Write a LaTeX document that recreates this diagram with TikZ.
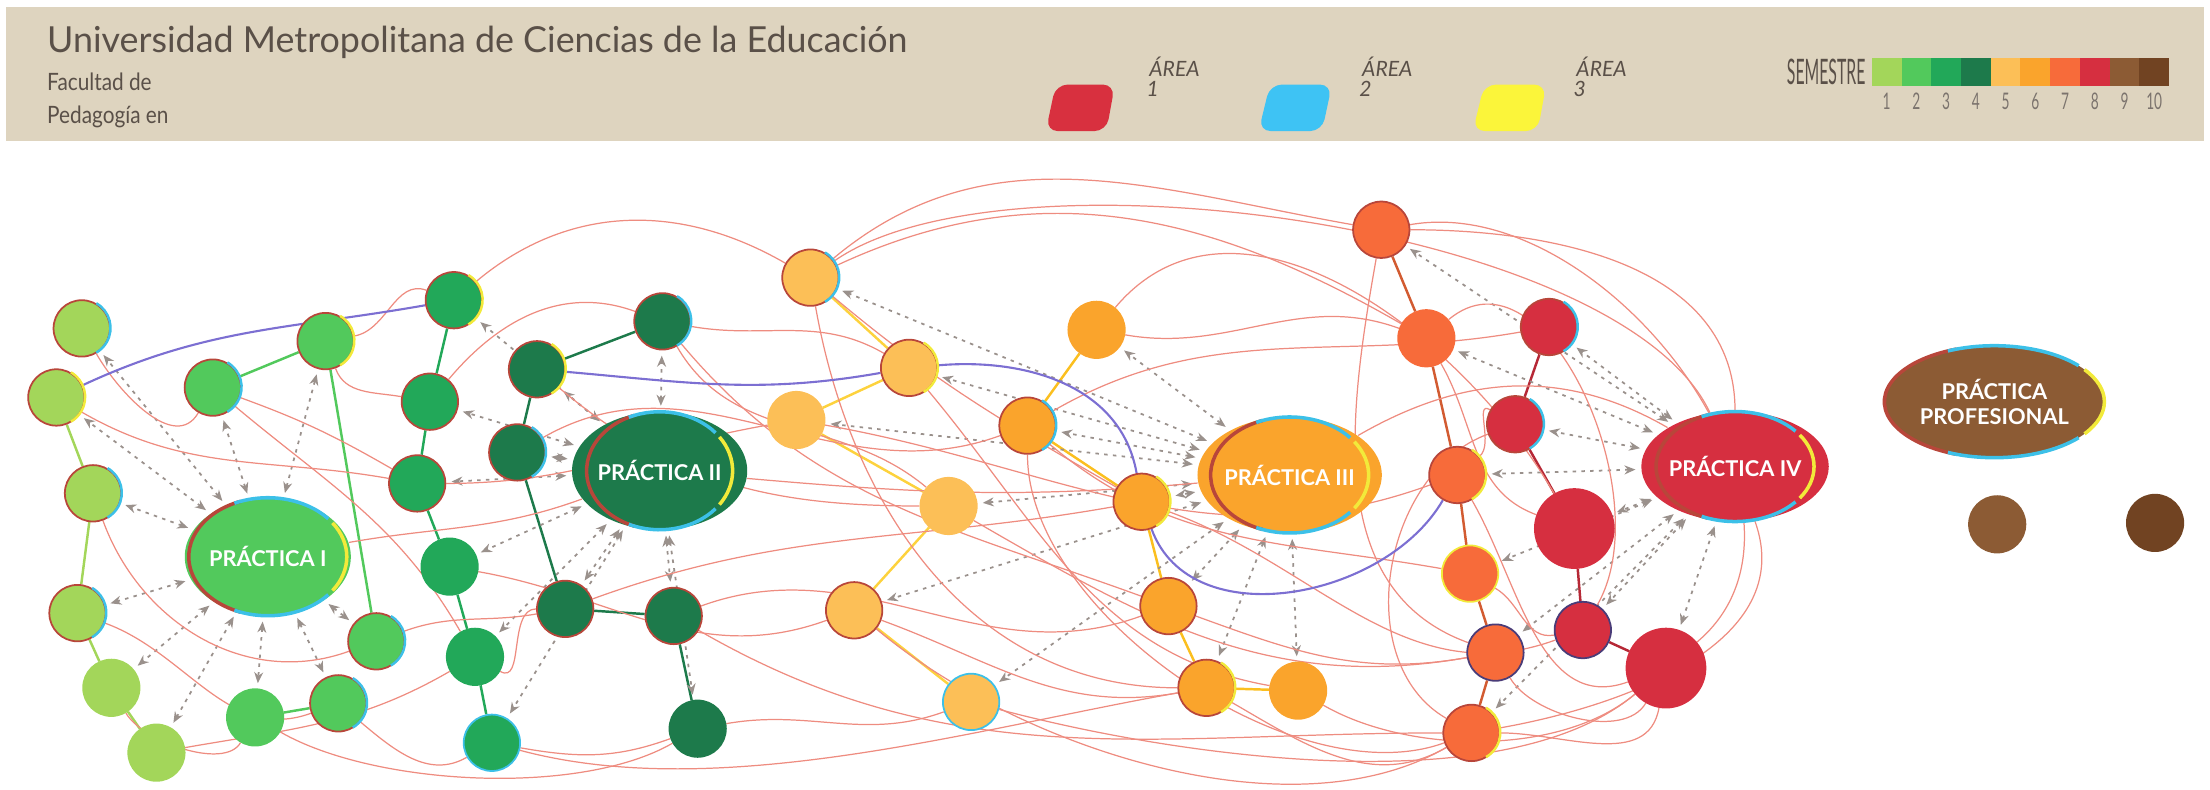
\documentclass[tikz,border=0pt]{standalone}
\usepackage{fontspec}
\setmainfont{Lato}
\usepackage{graphicx}
\usetikzlibrary{calc,positioning,shapes.geometric,arrows.meta}
\pgfdeclarelayer{fondo}
\pgfsetlayers{fondo,main}

\definecolor{banda}{HTML}{DED4BF}
\definecolor{titulo}{HTML}{5A5048}
\definecolor{sem1}{HTML}{A3D65A}
\definecolor{sem2}{HTML}{52C95C}
\definecolor{sem3}{HTML}{22A859}
\definecolor{sem4}{HTML}{1D7A4B}
\definecolor{sem5}{HTML}{FCBF57}
\definecolor{sem6}{HTML}{FAA42C}
\definecolor{sem7}{HTML}{F76B3A}
\definecolor{sem8}{HTML}{D62F40}
\definecolor{sem9}{HTML}{8C5B34}
\definecolor{sem10}{HTML}{714322}
\definecolor{area1}{HTML}{D8303F}
\definecolor{area2}{HTML}{3EC3F4}
\definecolor{area3}{HTML}{FBF53A}
\definecolor{rimred}{HTML}{B8463A}
\definecolor{rimcyan}{HTML}{3CC0E8}
\definecolor{rimyellow}{HTML}{F2EA3A}
\definecolor{rimnavy}{HTML}{4A3C78}
\definecolor{salmon}{HTML}{EE8C80}
\definecolor{morado}{HTML}{7C6FD2}
\definecolor{punteado}{HTML}{9A918C}

\begin{document}
\begin{tikzpicture}[x=0.14094mm,y=0.14094mm,
  curso/.style={circle,minimum size=5.64mm,inner sep=0pt,draw=rimred,line width=0.5pt},
  grande/.style={curso,minimum size=7.9mm},
  practica/.style={ellipse,inner sep=0pt,text=white,align=center,
    font=\fontsize{6.2}{7}\selectfont\bfseries},
  lazo/.style={draw=salmon,line width=0.35pt},
  cadena/.style={line width=0.7pt},
  ruta/.style={draw=morado,line width=0.6pt},
  flecha/.style={draw=punteado,line width=0.5pt,dash pattern=on 1pt off 1.5pt,
    >={Stealth[length=1.1mm,width=0.9mm]},<->,shorten <=1.5pt,shorten >=1.5pt},
  leyenda/.style={text=titulo,inner sep=0pt,font=\fontsize{6}{6}\selectfont\itshape}]

 \useasboundingbox (0,0) rectangle (1568,-560);

    % header
    \fill[banda] (4,-5) rectangle (1564,-100);
    \node[anchor=west,inner sep=0pt,text=titulo,font=\fontsize{10.2}{11}\selectfont] (univ) at (33,-30)
        {Universidad Metropolitana de Ciencias de la Educación};
    \node[anchor=west,inner sep=0pt,text=titulo,font=\fontsize{6.8}{8}\selectfont] (facultad) at (33,-58)
        {\scalebox{0.87}[1]{Facultad de}};
    \node[anchor=west,inner sep=0pt,text=titulo,font=\fontsize{6.8}{8}\selectfont] (pedagogia) at (33,-83)
        {\scalebox{0.87}[1]{Pedagogía en}};

    % areas
    \fill[area1,rounded corners=1.2mm] (749,-60) -- (791,-60) -- (785,-93) -- (742,-93) -- cycle;
    \fill[area2,rounded corners=1.2mm] (901,-60) -- (945,-60) -- (938,-93) -- (893,-93) -- cycle;
    \fill[area3,rounded corners=1.2mm] (1053,-60) -- (1097,-60) -- (1091,-93) -- (1045,-93) -- cycle;
    \node[leyenda,anchor=west] (area1t) at (815,-47) {ÁREA};
    \node[leyenda,anchor=west] (area1n) at (813,-63) {1};
    \node[leyenda,anchor=west] (area2t) at (966,-47) {ÁREA};
    \node[leyenda,anchor=west] (area2n) at (964,-63) {2};
    \node[leyenda,anchor=west] (area3t) at (1118,-47) {ÁREA};
    \node[leyenda,anchor=west] (area3n) at (1116,-63) {3};

    % semestres
    \node[anchor=east,inner sep=0pt,text=titulo] (semestre) at (1324,-51)
        {\scalebox{0.45}[1]{\fontsize{10}{10}\selectfont SEMESTRE}};
    \foreach \i in {1,...,10} {
      \fill[sem\i] ({1328+(\i-1)*21.1},-41) rectangle ++(21.1,-20);
      \node[inner sep=0pt,text=titulo!80] (num\i) at ({1338.5+(\i-1)*21.1},-72)
          {\scalebox{0.6}[1]{\fontsize{6.5}{6.5}\selectfont \i}};
    }

    % practicas
    \node[practica,fill=sem2,minimum width=15.8mm,minimum height=11.8mm] (p1) at (190,-395) {PRÁCTICA I};
    \node[practica,fill=sem4,minimum width=14.6mm,minimum height=11.8mm] (p2) at (468,-334) {PRÁCTICA II};
    \node[practica,fill=sem6,minimum width=15.8mm,minimum height=11.6mm] (p3) at (915,-337) {PRÁCTICA III};
    \node[practica,fill=sem8,minimum width=15.8mm,minimum height=11mm] (p4) at (1231,-331) {PRÁCTICA IV};
    \node[practica,fill=sem9,minimum width=22mm,minimum height=11.2mm] (pp) at (1415,-285) {PRÁCTICA\\PROFESIONAL};

    % semestre 1 y 2
    \node[curso,fill=sem1] (s1a) at (58,-233) {};
    \node[curso,fill=sem1] (s1b) at (40,-282) {};
    \node[curso,fill=sem1] (s1c) at (66,-350) {};
    \node[curso,fill=sem1] (s1d) at (55,-435) {};
    \node[curso,fill=sem1,draw=sem1] (s1e) at (79,-488) {};
    \node[curso,fill=sem1,draw=sem1] (s1f) at (111,-534) {};
    \node[curso,fill=sem2] (s2a) at (151,-275) {};
    \node[curso,fill=sem2] (s2b) at (231,-242) {};
    \node[curso,fill=sem2] (s2c) at (267,-455) {};
    \node[curso,fill=sem2] (s2d) at (240,-499) {};
    \node[curso,fill=sem2,draw=sem2] (s2e) at (181,-509) {};

    % semestre 3 y 4
    \node[curso,fill=sem3] (s3a) at (322,-213) {};
    \node[curso,fill=sem3] (s3b) at (305,-285) {};
    \node[curso,fill=sem3] (s3c) at (296,-343) {};
    \node[curso,fill=sem3,draw=sem3] (s3d) at (319,-402) {};
    \node[curso,fill=sem3,draw=sem3] (s3e) at (337,-466) {};
    \node[curso,fill=sem3,draw=rimcyan] (s3f) at (349,-527) {};
    \node[curso,fill=sem4] (s4a) at (381,-262) {};
    \node[curso,fill=sem4] (s4b) at (470,-228) {};
    \node[curso,fill=sem4] (s4c) at (367,-321) {};
    \node[curso,fill=sem4] (s4d) at (401,-432) {};
    \node[curso,fill=sem4] (s4e) at (478,-437) {};
    \node[curso,fill=sem4,draw=sem4] (s4f) at (495,-517) {};

    % semestre 5 y 6
    \node[curso,fill=sem5] (s5a) at (575,-197) {};
    \node[curso,fill=sem5] (s5b) at (645,-261) {};
    \node[curso,fill=sem5,draw=sem5] (s5c) at (565,-298) {};
    \node[curso,fill=sem5,draw=sem5] (s5d) at (673,-359) {};
    \node[curso,fill=sem5] (s5e) at (606,-433) {};
    \node[curso,fill=sem5,draw=rimcyan] (s5f) at (689,-498) {};
    \node[curso,fill=sem6,draw=sem6] (s6a) at (778,-234) {};
    \node[curso,fill=sem6] (s6b) at (729,-302) {};
    \node[curso,fill=sem6] (s6c) at (810,-356) {};
    \node[curso,fill=sem6] (s6d) at (829,-430) {};
    \node[curso,fill=sem6] (s6e) at (856,-488) {};
    \node[curso,fill=sem6,draw=sem6] (s6f) at (921,-490) {};

    % semestre 7 y 8
    \node[curso,fill=sem7] (s7a) at (980,-163) {};
    \node[curso,fill=sem7,draw=sem7] (s7b) at (1012,-240) {};
    \node[curso,fill=sem7] (s7c) at (1034,-337) {};
    \node[curso,fill=sem7,draw=rimyellow] (s7d) at (1043,-407) {};
    \node[curso,fill=sem7,draw=rimnavy] (s7e) at (1061,-463) {};
    \node[curso,fill=sem7] (s7f) at (1044,-520) {};
    \node[curso,fill=sem8] (s8a) at (1099,-232) {};
    \node[curso,fill=sem8] (s8b) at (1075,-301) {};
    \node[grande,fill=sem8,draw=sem8] (s8c) at (1117,-375) {};
    \node[curso,fill=sem8,draw=rimnavy] (s8d) at (1123,-447) {};
    \node[grande,fill=sem8,draw=sem8] (s8e) at (1182,-474) {};

    % semestre 9 y 10
    \node[curso,fill=sem9,draw=sem9] (s9a) at (1417,-372) {};
    \node[curso,fill=sem10,draw=sem10] (s10a) at (1529,-371) {};

    % bordes de area
    \foreach \n in {s1a,s1c,s1d,s2a,s2c,s2d,s4b,s5a,s6b,s8a,s8b,s4c}
      \draw[rimcyan,line width=0.7pt] (\n.60) arc[start angle=60,end angle=-60,radius=2.85mm];
    \foreach \n in {s1b,s2b,s3a,s4a,s5b,s6c,s6e,s7c,s7f}
      \draw[rimyellow,line width=0.7pt] (\n.60) arc[start angle=60,end angle=-60,radius=2.85mm];
    \foreach \n/\rx/\ry in {p1/7.9mm/5.9mm,p2/7.3mm/5.9mm,p3/7.9mm/5.8mm,p4/7.9mm/5.5mm,pp/11mm/5.6mm} {
      \draw[rimred,line width=1pt] ($(\n)+({\rx*cos(110)},{\ry*sin(110)})$) arc[start angle=110,end angle=250,x radius=\rx,y radius=\ry];
      \draw[rimcyan,line width=1pt] ($(\n)+({\rx*cos(40)},{\ry*sin(40)})$) arc[start angle=40,end angle=115,x radius=\rx,y radius=\ry];
      \draw[rimcyan,line width=1pt] ($(\n)+({\rx*cos(245)},{\ry*sin(245)})$) arc[start angle=245,end angle=320,x radius=\rx,y radius=\ry];
      \draw[rimyellow,line width=1pt] ($(\n)+({\rx*cos(-35)},{\ry*sin(-35)})$) arc[start angle=-35,end angle=35,x radius=\rx,y radius=\ry];
    }

    \begin{pgfonlayer}{fondo}
    % cadenas por semestre
    \draw[cadena,sem1] (s1b) -- (s1c) -- (s1d) -- (s1e) -- (s1f);
    \draw[cadena,sem2] (s2a) -- (s2b) -- (s2c);
    \draw[cadena,sem2] (s2d) -- (s2e);
    \draw[cadena,sem3] (s3a) -- (s3b) -- (s3c) -- (s3d) -- (s3e) -- (s3f);
    \draw[cadena,sem4] (s4b) -- (s4a) -- (s4c) -- (s4d) -- (s4e) -- (s4f);
    \draw[cadena,sem5!70!yellow] (s5a) -- (s5b) -- (s5c) -- (s5d) -- (s5e) -- (s5f);
    \draw[cadena,sem6!70!yellow] (s6a) -- (s6b) -- (s6c) -- (s6d) -- (s6e) -- (s6f);
    \draw[cadena,sem7!85!black] (s7a) -- (s7b) -- (s7c) -- (s7d) -- (s7e) -- (s7f);
    \draw[cadena,sem8!85!black] (s8a) -- (s8b) -- (s8c) -- (s8d) -- (s8e);

    % flechas hacia las practicas
    \foreach \n in {s1a,s1b,s1c,s1d,s1e,s1f,s2a,s2b,s2c,s2d,s2e} \draw[flecha] (p1) -- (\n);
    \foreach \n in {s3a,s3b,s3c,s3d,s3e,s3f,s4a,s4b,s4c,s4d,s4e,s4f} \draw[flecha] (p2) -- (\n);
    \foreach \n in {s5a,s5b,s5c,s5d,s5e,s5f,s6a,s6b,s6c,s6d,s6e,s6f} \draw[flecha] (p3) -- (\n);
    \foreach \n in {s7a,s7b,s7c,s7d,s7e,s7f,s8a,s8b,s8c,s8d,s8e} \draw[flecha] (p4) -- (\n);

    % requisitos, tramo 1
    \draw[lazo] (s1a) to[out=-60,in=-120] (s2a);
    \draw[lazo] (s1b) to[out=-30,in=170] (s3c);
    \draw[lazo] (s1c) to[out=-70,in=-160] (s2c);
    \draw[lazo] (s1d) to[out=-20,in=200] (s2d);
    \draw[lazo] (s1e) to[out=-60,in=-120,looseness=0.7] (s2e);
    \draw[lazo] (s1f) to[out=10,in=-150] (s3e);
    \draw[lazo] (s2a) to[out=-20,in=150] (s3c);
    \draw[lazo] (s2a) to[out=-40,in=120] (s3e);
    \draw[lazo] (s2b) to[out=-70,in=170] (s3b);
    \draw[lazo] (s2b) to[out=10,in=160] (s3a);
    \draw[lazo] (p1) to[out=10,in=200] (p2);
    \draw[lazo] (s2c) to[out=20,in=190] (s4d);
    \draw[lazo] (s2d) to[out=-40,in=-150] (s3f);
    \draw[lazo] (s2e) to[out=-30,in=-150,looseness=0.7] (s4f);

    % requisitos, tramo 2
    \draw[lazo] (s3a) to[out=40,in=150] (s5a);
    \draw[lazo] (s3b) to[out=50,in=160] (s4b);
    \draw[lazo] (s3c) to[out=0,in=190] (s5c);
    \draw[lazo] (s3d) to[out=-10,in=200] (s5e);
    \draw[lazo] (s3e) to[out=-30,in=180] (s4d);
    \draw[lazo] (s3f) to[out=-10,in=-160] (s4f);
    \draw[lazo] (s3f) to[out=-15,in=-170,looseness=0.8] (s6e);
    \draw[lazo] (s4b) to[out=-10,in=150] (s5b);
    \draw[lazo] (s4b) to[out=-60,in=140] (s5d);
    \draw[lazo] (s4b) to[out=-50,in=160] (s6d);
    \draw[lazo] (s4a) to[out=-40,in=180] (s5d);
    \draw[lazo] (s4c) to[out=30,in=200] (s6b);
    \draw[lazo] (s4d) to[out=20,in=190] (s6c);
    \draw[lazo] (s4e) to[out=20,in=200] (s6d);
    \draw[lazo] (s4e) to[out=-30,in=180] (s7f);
    \draw[lazo] (s4f) to[out=10,in=-160] (s5f);
    \draw[lazo] (p2) to[out=-5,in=185] (p3);

    % requisitos, tramo 3
    \draw[lazo] (s5a) to[out=40,in=170] (s7a);
    \draw[lazo] (s5a) to[out=25,in=150] (s7b);
    \draw[lazo] (s5a) to[out=35,in=115,looseness=0.6] (p4);
    \draw[lazo] (s5a) to[out=-80,in=180] (s6e);
    \draw[lazo] (s5a) to[out=-40,in=150] (s6c);
    \draw[lazo] (s5b) to[out=-50,in=170] (s6f);
    \draw[lazo] (s5c) to[out=-10,in=200] (s7c);
    \draw[lazo] (s5d) to[out=-30,in=190] (s7e);
    \draw[lazo] (s5e) to[out=-20,in=190] (s6e);
    \draw[lazo] (s5e) to[out=-40,in=-150,looseness=0.8] (s7f);
    \draw[lazo] (s5f) to[out=-15,in=-140,looseness=0.7] (s8e);
    \draw[lazo] (s6a) to[out=50,in=120] (s8c);
    \draw[lazo] (s6a) to[out=-10,in=160] (s7b);
    \draw[lazo] (s6b) to[out=30,in=190] (s8a);
    \draw[lazo] (s6b) to[out=-40,in=170] (s7d);
    \draw[lazo] (s6b) to[out=-90,in=-160,looseness=0.8] (s7f);
    \draw[lazo] (s6c) to[out=-20,in=200] (s8d);
    \draw[lazo] (s6d) to[out=-20,in=-170] (s7e);
    \draw[lazo] (s6e) to[out=-30,in=-150] (s7f);
    \draw[lazo] (s6f) to[out=-30,in=-140,looseness=0.8] (s8e);
    \draw[lazo] (p3) to[out=30,in=150] (p4);

    % requisitos, tramo 4
    \draw[lazo] (s7a) to[out=0,in=90] (p4);
    \draw[lazo] (s7a) to[out=10,in=40] (s8e);
    \draw[lazo] (s7a) to[out=-100,in=160] (s7e);
    \draw[lazo] (s7b) to[out=40,in=60] (s8d);
    \draw[lazo] (s7b) to[out=-60,in=160] (s8c);
    \draw[lazo] (s7c) to[out=-60,in=200] (s8e);
    \draw[lazo] (s7c) to[out=40,in=150] (s8b);
    \draw[lazo] (s7d) to[out=-30,in=190] (s8d);
    \draw[lazo] (s7e) to[out=-60,in=-120,looseness=0.8] (s8e);
    \draw[lazo] (s7f) to[out=0,in=-100] (s8e);
    \draw[lazo] (s8b) to[out=200,in=150] (s7f);
    \draw[lazo] (s7f) to[out=10,in=-70] (p4);

    % rutas moradas
    \draw[ruta] (s1b) to[out=25,in=190] (s3a);
    \draw[ruta] (s4a) to[out=-5,in=190] (s5b);
    \draw[ruta] (s5b) to[out=5,in=100] (s6c);
    \draw[ruta] (s6c) to[out=-70,in=-120] (s7c);
    \end{pgfonlayer}

\end{tikzpicture}
\end{document}
